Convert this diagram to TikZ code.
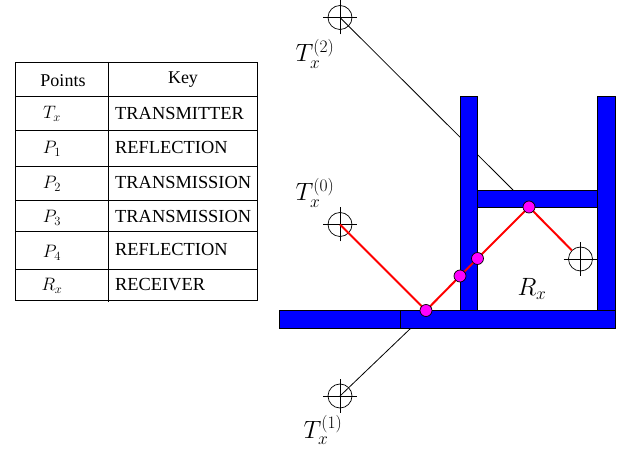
\documentclass[tikz,border=0pt]{standalone}
\usepackage{fix-cm}
\usepackage{fontspec}
\setmainfont{Liberation Serif}
\definecolor{hitpink}{RGB}{255,0,255}
\definecolor{wallblue}{RGB}{0,0,255}
\definecolor{rayred}{RGB}{255,0,0}
\tikzset{
  wall/.style={fill=wallblue,draw=black,line width=0.7pt},
  grid line/.style={draw=black,line width=0.8pt},
  ray/.style={draw=rayred,line width=2pt},
  ghost/.style={draw=black,line width=0.8pt},
  hit/.style={circle,draw=black,fill=hitpink,line width=0.7pt,minimum size=12pt,inner sep=0pt},
  antenna/.style={circle,minimum size=24pt,inner sep=0pt,draw=black,line width=0.7pt},
  keytext/.style={anchor=west,inner sep=0pt,font=\fontsize{18.4}{20}\selectfont},
  headtext/.style={anchor=center,inner sep=0pt,font=\fontsize{18}{20}\selectfont},
  pointtext/.style={anchor=center,inner sep=0pt,font=\fontsize{18}{20}\selectfont},
  biglabel/.style={anchor=center,inner sep=0pt,font=\fontsize{25}{30}\selectfont},
}
\newcommand{\crosshair}[1]{\draw[line width=0.7pt] ([xshift=-17pt]#1.center) -- ([xshift=17pt]#1.center) ([yshift=-17pt]#1.center) -- ([yshift=17pt]#1.center);}
\begin{document}
\begin{tikzpicture}[x=1pt,y=-1pt]
\useasboundingbox (0,0) rectangle (622,449);
\fill[white] (0,0) rectangle (622,449);
% table
\draw[grid line] (15,62) rectangle (257,300);
\foreach \yy in {96,130,166,200,231,269}{\draw[grid line] (15,\yy) -- (257,\yy);}
\draw[grid line] (108,62) -- (108,302);
\node[headtext] (h1) at (63,81) {Points};
\node[headtext] (h2) at (183,80) {Key};
\node[pointtext] (p0) at (52,114) {$T_x$};
\node[pointtext] (p1) at (52,149) {$P_1$};
\node[pointtext] (p2) at (52,184) {$P_2$};
\node[pointtext] (p3) at (52,218) {$P_3$};
\node[pointtext] (p4) at (52,253) {$P_4$};
\node[pointtext] (p5) at (52,286) {$R_x$};
\node[keytext] (k0) at (115,114) {TRANSMITTER};
\node[keytext] (k1) at (115,148) {REFLECTION};
\node[keytext] (k2) at (115,182) {TRANSMISSION};
\node[keytext] (k3) at (115,216) {TRANSMISSION};
\node[keytext] (k4) at (115,250) {REFLECTION};
\node[keytext] (k5) at (115,285) {RECEIVER};
% antennas
\node[antenna] (t2) at (340,17.5) {};
\node[antenna] (t0) at (340,224.5) {};
\node[antenna] (t1) at (340,396) {};
\node[antenna] (rx) at (580.5,259) {};
\crosshair{t2}\crosshair{t0}\crosshair{t1}\crosshair{rx}
\coordinate (m2) at (513,190);
\coordinate (m1) at (411,328);
\draw[ghost] (t2.center) -- (m2);
\draw[ghost] (t1.center) -- (m1);
% walls
\draw[wall] (460,96) rectangle (477.5,310);
\draw[wall] (597.5,96) rectangle (615,310);
\draw[wall] (477.5,190) rectangle (597.5,207);
\draw[wall] (279.5,310) rectangle (400,328);
\draw[wall] (400,310) rectangle (615,328);
% ray
\coordinate (a0) at (426,310.5);
\coordinate (b0) at (460,276);
\coordinate (c0) at (477.5,258.5);
\coordinate (d0) at (529,207);
\draw[ray] (t0.center) -- (a0) -- (b0) -- (c0) -- (d0) -- (rx.135);
\node[hit] (a) at (a0) {};
\node[hit] (b) at (b0) {};
\node[hit] (c) at (c0) {};
\node[hit] (d) at (d0) {};
% labels
\node[biglabel] (l2) at (315,54) {$T_x^{(2)}$};
\node[biglabel] (l0) at (315,193) {$T_x^{(0)}$};
\node[biglabel] (l1) at (323,430) {$T_x^{(1)}$};
\node[biglabel] (lr) at (532,289) {$R_x$};
\end{tikzpicture}
\end{document}
